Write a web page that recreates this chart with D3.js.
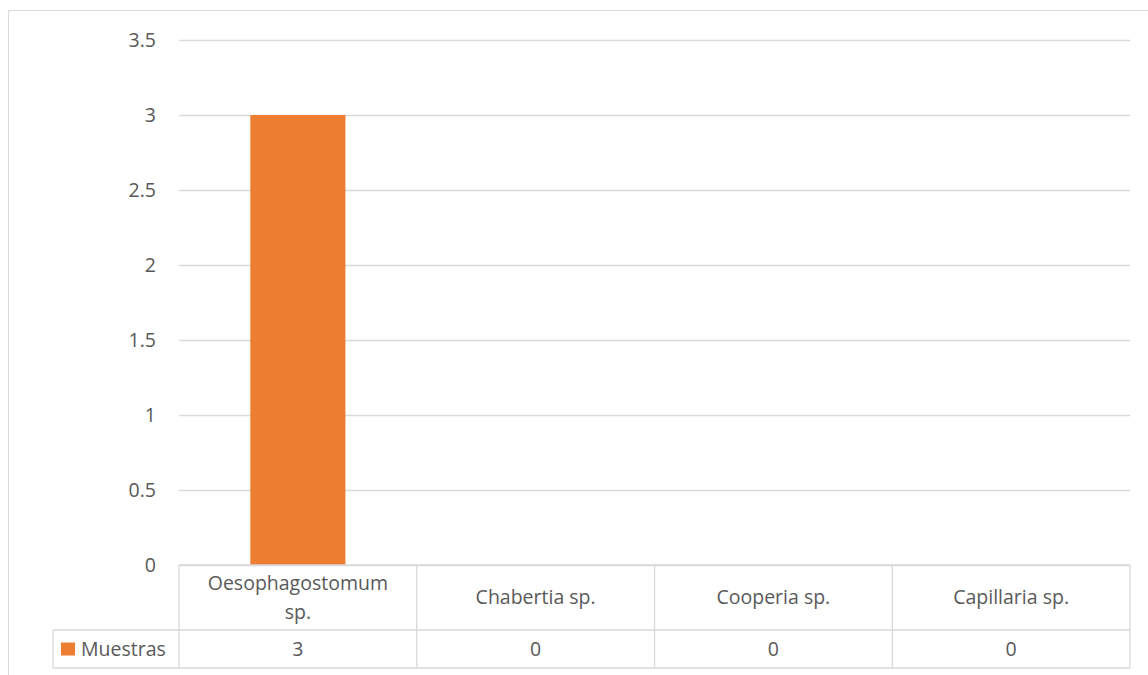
<!DOCTYPE html>
<html>
<head>
<meta charset="utf-8">
<script src="https://cdn.jsdelivr.net/npm/d3@7"></script>
<style>
  html, body { margin: 0; padding: 0; background: #fff; }
  svg { display: block; font-family: "Open Sans", "Noto Sans", sans-serif; }
</style>
</head>
<body>
<svg id="chart" width="1148" height="675"></svg>
<script>
// Chart data
const categories = ["Oesophagostomum sp.", "Chabertia sp.", "Cooperia sp.", "Capillaria sp."];
const categoryLines = [["Oesophagostomum", "sp."], ["Chabertia sp."], ["Cooperia sp."], ["Capillaria sp."]];
const seriesName = "Muestras";
const muestras = [3, 0, 0, 0];
const yTicks = [0, 0.5, 1, 1.5, 2, 2.5, 3, 3.5];

const W = 1148, H = 675;
const plot = { left: 179, right: 1130, top: 40, bottom: 565 };
const tableRow1 = 630, tableBottom = 668, legendLeft = 53;
const gridColor = "#d9d9d9", textColor = "#595959", barColor = "#ed7d31";
const fontSize = 19.5;

const svg = d3.select("#chart");

// Chart area border (clipped at right/bottom)
svg.append("path")
  .attr("d", `M8.5,${H} V10.5 H${W}`)
  .attr("fill", "none").attr("stroke", gridColor).attr("stroke-width", 1);

const x = d3.scaleBand().domain(categories).range([plot.left, plot.right]).paddingInner(0.6).paddingOuter(0.3);
const xCell = d3.scaleBand().domain(categories).range([plot.left, plot.right]);
const y = d3.scaleLinear().domain([0, 3.5]).range([plot.bottom, plot.top]);

// Gridlines + y labels via axis
const yAxis = d3.axisLeft(y).tickValues(yTicks).tickFormat(d => String(d))
  .tickSize(-(plot.right - plot.left)).tickPadding(23);
const gy = svg.append("g").attr("transform", `translate(${plot.left},0)`).call(yAxis);
gy.select(".domain").remove();
gy.selectAll(".tick line").attr("stroke", gridColor).attr("stroke-width", 1.3);
gy.selectAll(".tick text").attr("fill", textColor).attr("font-size", fontSize)
  .attr("font-family", "'Open Sans', sans-serif");

// Bars
svg.append("g").selectAll("rect").data(categories.map((c, i) => ({ c, v: muestras[i] })))
  .join("rect")
  .attr("x", d => x(d.c)).attr("width", x.bandwidth())
  .attr("y", d => y(d.v)).attr("height", d => y(0) - y(d.v))
  .attr("fill", barColor);

// Data table
const tg = svg.append("g").attr("stroke", gridColor).attr("stroke-width", 1.3).attr("fill", "none");
tg.append("line").attr("x1", plot.left).attr("x2", plot.right).attr("y1", plot.bottom).attr("y2", plot.bottom);
tg.append("line").attr("x1", legendLeft).attr("x2", plot.right).attr("y1", tableRow1).attr("y2", tableRow1);
tg.append("line").attr("x1", legendLeft).attr("x2", plot.right).attr("y1", tableBottom).attr("y2", tableBottom);
tg.append("line").attr("x1", legendLeft).attr("x2", legendLeft).attr("y1", tableRow1).attr("y2", tableBottom);
const seps = categories.map(c => xCell(c)).concat([plot.right]);
tg.selectAll("line.sep").data(seps).join("line").attr("class", "sep")
  .attr("x1", d => d).attr("x2", d => d).attr("y1", plot.bottom).attr("y2", tableBottom);

// Category labels
const cl = svg.append("g").attr("fill", textColor).attr("font-size", fontSize).attr("text-anchor", "middle");
categories.forEach((c, i) => {
  const lines = categoryLines[i];
  const cx = xCell(c) + xCell.bandwidth() / 2;
  const mid = (plot.bottom + tableRow1) / 2;
  const lh = 29;
  lines.forEach((ln, j) => {
    cl.append("text").attr("x", cx)
      .attr("y", mid + (j - (lines.length - 1) / 2) * lh)
      .attr("dy", "0.35em").text(ln);
  });
});

// Value row
const vmid = (tableRow1 + tableBottom) / 2;
categories.forEach((c, i) => {
  cl.append("text").attr("x", xCell(c) + xCell.bandwidth() / 2).attr("y", vmid)
    .attr("dy", "0.35em").text(muestras[i]);
});

// Legend key in table
svg.append("rect").attr("x", 61).attr("y", vmid - 6.5).attr("width", 14).attr("height", 13).attr("fill", barColor);
svg.append("text").attr("x", 81).attr("y", vmid).attr("dy", "0.35em")
  .attr("fill", textColor).attr("font-size", fontSize).text(seriesName);
</script>
</body>
</html>
